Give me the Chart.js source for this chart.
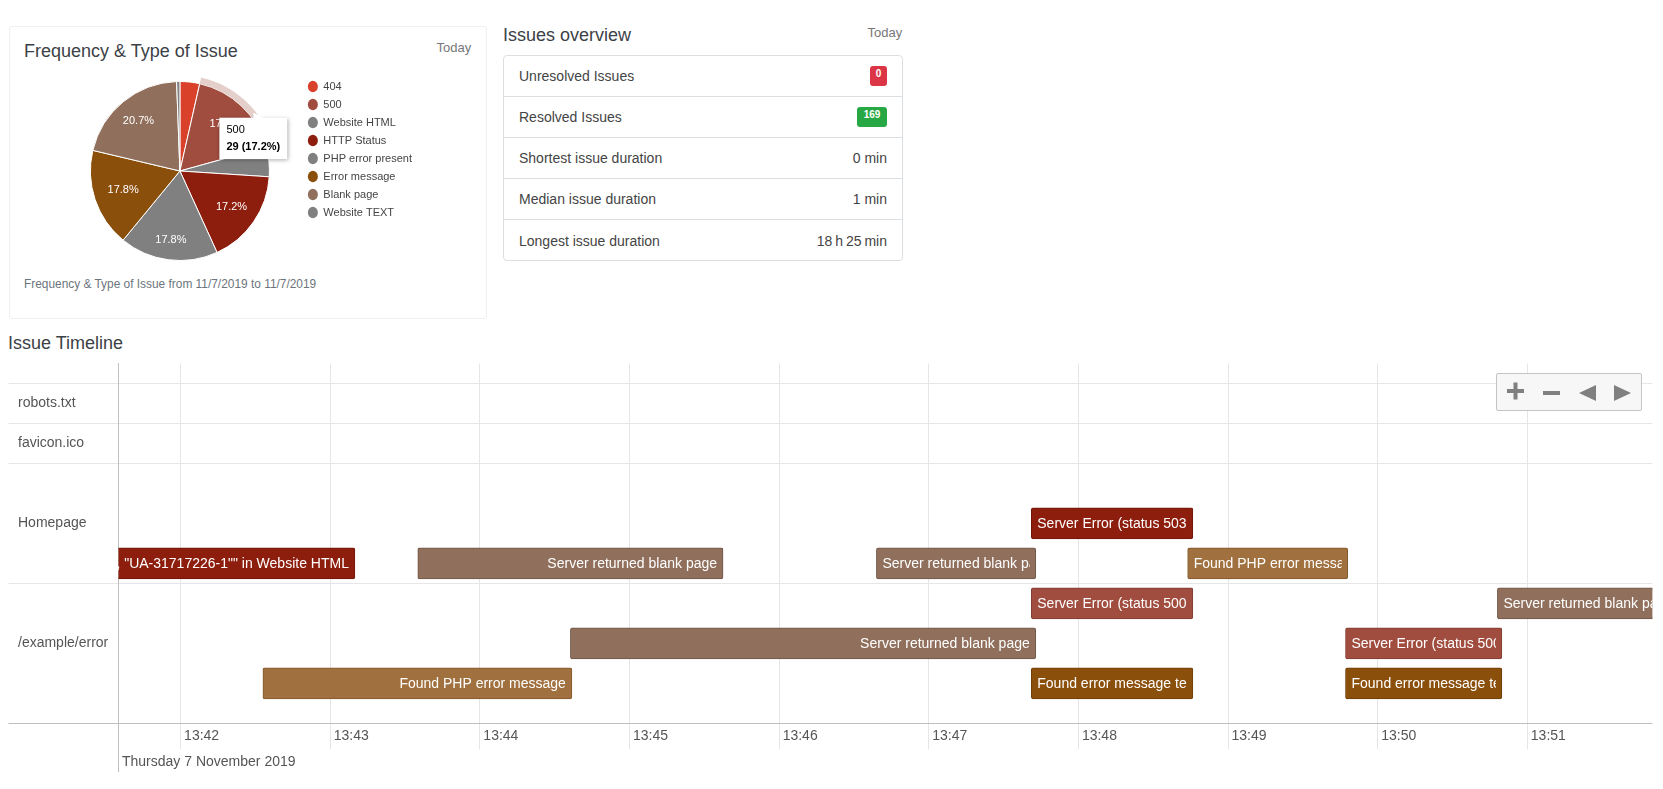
<!DOCTYPE html>
<html>
<head>
<meta charset="utf-8">
<title>Issues</title>
<script src="https://cdn.jsdelivr.net/npm/chart.js@4/dist/chart.umd.min.js"></script>
<style>
  body { margin: 0; background: #fff; font-family: "Liberation Sans", Arial, sans-serif; color: #343a40; overflow: hidden; }
  .abs { position: absolute; }
  .title { font-size: 18px; line-height: 22px; color: #3c4146; white-space: nowrap; }
  .today { font-size: 13px; line-height: 16px; color: #777; }
  .card { left: 8.5px; top: 26px; width: 478px; height: 293px; border: 1px solid #f0f0f0; border-radius: 3px; box-sizing: border-box; }
  .subtitle { left: 24px; top: 276.5px; font-size: 11.9px; line-height: 14px; color: #6c757d; white-space: nowrap; }
  .list { left: 503px; top: 55px; width: 400px; height: 206px; border: 1px solid #dcdfe2; border-radius: 4px; box-sizing: border-box; }
  .row { height: 41px; box-sizing: border-box; border-bottom: 1px solid #dcdfe2; padding: 0 15px; display: flex; justify-content: space-between; align-items: center; font-size: 14px; color: #444; }
  .row:last-child { border-bottom: 0; }
  .badge { color: #fff; font-size: 10px; font-weight: bold; line-height: 10px; height: 20px; padding: 3px 0 0; box-sizing: border-box; text-align: center; border-radius: 3px; }
  .red { background: #dc3545; width: 17px; }
  .green { background: #28a745; width: 30px; }
  #frequencyChart { left: 58.5px; top: 74px; }
  #timelineChart { left: 8px; top: 352px; }
  .axisExtra { left: 118px; top: 723px; width: 1px; height: 49px; background: #bfbfbf; }
  .dateLabel { left: 122px; top: 753px; font-size: 14px; line-height: 17px; color: #555; }
  .controls { left: 1496px; top: 373px; width: 146px; height: 38px; background: rgba(247,247,247,.95); border: 1px solid #c4c4c4; border-radius: 2px; box-sizing: border-box; }
</style>
</head>
<body>
<div class="abs card"></div>
<div class="abs title" style="left:24px;top:40px">Frequency &amp; Type of Issue</div>
<div class="abs today" style="left:436.5px;top:40px">Today</div>
<canvas class="abs" id="frequencyChart" width="363" height="194"></canvas>
<div class="abs subtitle">Frequency &amp; Type of Issue from 11/7/2019 to 11/7/2019</div>

<div class="abs title" style="left:503px;top:24px">Issues overview</div>
<div class="abs today" style="left:867.5px;top:25px">Today</div>
<div class="abs list">
  <div class="row"><span>Unresolved Issues</span><span class="badge red">0</span></div>
  <div class="row"><span>Resolved Issues</span><span class="badge green">169</span></div>
  <div class="row"><span>Shortest issue duration</span><span>0 min</span></div>
  <div class="row"><span>Median issue duration</span><span>1 min</span></div>
  <div class="row"><span>Longest issue duration</span><span style="word-spacing:-1px">18 h 25 min</span></div>
</div>

<div class="abs title" style="left:8px;top:332px">Issue Timeline</div>
<canvas class="abs" id="timelineChart" width="1645" height="406"></canvas>
<div class="abs axisExtra"></div>
<div class="abs dateLabel">Thursday 7 November 2019</div>
<div class="abs controls">
  <svg width="144" height="36" viewBox="0 0 144 36">
    <path fill="#808080" d="M10 10h6.5V3.5h4V10H27v4h-6.5v6.5h-4V14H10z" transform="translate(0,5)"/>
    <path fill="#808080" d="M46 17h17v4H46z"/>
    <path fill="#808080" d="M82 19l17-8v16z"/>
    <path fill="#808080" d="M134 19l-17-8v16z"/>
  </svg>
</div>

<script>
// Pie
const issueTypes = ['404', '500', 'Website HTML', 'HTTP Status', 'PHP error present', 'Error message', 'Blank page', 'Website TEXT'];
const issueCounts = [6, 29, 9, 29, 30, 30, 35, 1];
const sliceColors = ['#d9412a', '#a04d3f', '#808080', '#8d1e0d', '#808080', '#8b4f0c', '#90705d', '#808080'];
const haloColors = ['transparent', '#e4cfca', 'transparent', 'transparent', 'transparent', 'transparent', 'transparent', 'transparent'];
const activeSlice = 1;

// Timeline
const rowNames = ['robots.txt', 'favicon.ico', 'Homepage', '/example/error'];
const rowCenters = [1, 2, 4, 7];
const rowEdges = [0.5, 1.5, 2.5, 5.5, 9];
const tickMinutes = [42, 43, 44, 45, 46, 47, 48, 49, 50, 51];
const tickLabels = ['13:42', '13:43', '13:44', '13:45', '13:46', '13:47', '13:48', '13:49', '13:50', '13:51'];
const barLanes = [5, 5, 5, 4, 5, 6, 6, 7, 7, 8, 8, 8];
const barStarts = [41.0, 43.585, 46.65, 47.685, 48.73, 47.685, 50.80, 44.605, 49.785, 42.55, 47.685, 49.785];
const barEnds = [43.165, 45.625, 47.715, 48.765, 49.80, 48.765, 52.30, 47.715, 50.83, 44.615, 48.765, 50.83];
const barTypes = ['http', 'blank', 'blank', 'http', 'php', 's500', 'blank', 'blank', 's500', 'php', 'error', 'error'];
const barTexts = [
  ', "UA-31717226-1"" in Website HTML', 'Server returned blank page', 'Server returned blank page',
  'Server Error (status 503)', 'Found PHP error message', 'Server Error (status 500)',
  'Server returned blank page', 'Server returned blank page', 'Server Error (status 500)',
  'Found PHP error message', 'Found error message text', 'Found error message text'
];
const barAlign = ['right', 'right', 'left', 'left', 'left', 'left', 'left', 'right', 'left', 'right', 'left', 'left'];
const typeFill = { http: '#8d1e0d', blank: '#90705d', php: '#a0703e', s500: '#a04d3f', error: '#8b4f0c' };
const typeBorder = { http: '#6f1709', blank: '#6f5646', php: '#80592f', s500: '#803d32', error: '#6e3e09' };

const FONT = '"Liberation Sans", Arial, sans-serif';
const total = issueCounts.reduce((a, b) => a + b, 0);
const percent = i => (issueCounts[i] / total * 100).toFixed(1) + '%';

Chart.Tooltip.positioners.pinned = () => ({ x: 194.3, y: 43.7, xAlign: 'center', yAlign: 'top' });

// how far out each percentage sits, by slice
const labelReach = { 1: 0.73, 3: 0.70, 4: 0.78, 5: 0.67, 6: 0.73 };

const sliceLabels = {
  id: 'sliceLabels',
  afterDatasetsDraw(chart) {
    const { ctx } = chart;
    ctx.save();
    ctx.font = '11px ' + FONT;
    ctx.fillStyle = '#fff';
    ctx.textAlign = 'center';
    ctx.textBaseline = 'middle';
    chart.getDatasetMeta(1).data.forEach((arc, i) => {
      if (issueCounts[i] / total < 0.1) return;
      const mid = (arc.startAngle + arc.endAngle) / 2;
      const r = arc.outerRadius * labelReach[i];
      ctx.fillText(percent(i), arc.x + Math.cos(mid) * r, arc.y + Math.sin(mid) * r);
    });
    ctx.restore();
  }
};

const tooltipBox = {
  id: 'tooltipBox',
  beforeTooltipDraw(chart, args) {
    const { ctx } = chart;
    const t = args.tooltip;
    ctx.save();
    ctx.shadowColor = 'rgba(0,0,0,.35)';
    ctx.shadowBlur = 4;
    ctx.shadowOffsetX = 1;
    ctx.shadowOffsetY = 1;
    ctx.fillStyle = '#fff';
    ctx.fillRect(t.x, t.y, t.width, t.height);
    ctx.shadowColor = 'transparent';
    ctx.beginPath();
    ctx.moveTo(t.x + 34, t.y + 1);
    ctx.lineTo(t.x + 34, t.y - 5);
    ctx.lineTo(t.x + 46, t.y + 1);
    ctx.fill();
    ctx.restore();
  }
};

const frequencyChart = new Chart(document.getElementById('frequencyChart'), {
  type: 'doughnut',
  data: {
    labels: issueTypes,
    datasets: [
      { data: issueCounts, backgroundColor: haloColors, hoverBackgroundColor: haloColors, borderWidth: 0, hoverBorderWidth: 0, weight: 6.5 },
      { data: issueCounts, backgroundColor: sliceColors, hoverBackgroundColor: sliceColors, borderColor: '#fff', hoverBorderColor: '#fff', borderWidth: 1, hoverBorderWidth: 1, weight: 89.5 }
    ]
  },
  options: {
    responsive: false,
    animation: false,
    events: [],
    cutout: 0,
    radius: 96,
    hoverOffset: 0,
    plugins: {
      legend: {
        position: 'right',
        align: 'start',
        labels: {
          usePointStyle: true,
          pointStyleWidth: 10,
          boxHeight: 8,
          padding: 7,
          color: '#444',
          font: { size: 11, family: FONT },
          generateLabels: () => issueTypes.map((text, i) => ({
            text, fillStyle: sliceColors[i], strokeStyle: sliceColors[i], lineWidth: 0,
            pointStyle: 'circle', fontColor: '#444', hidden: false, index: i
          }))
        }
      },
      tooltip: {
        enabled: true,
        position: 'pinned',
        backgroundColor: 'transparent',
        titleColor: '#000',
        bodyColor: '#000',
        titleFont: { size: 11, weight: 'normal', family: FONT },
        bodyFont: { size: 11, weight: 'bold', family: FONT },
        titleMarginBottom: 3,
        padding: { x: 7, y: 6 },
        caretSize: 0,
        caretPadding: 0,
        cornerRadius: 0,
        displayColors: false,
        callbacks: {
          title: items => issueTypes[items[0].dataIndex],
          label: item => issueCounts[item.dataIndex] + ' (' + percent(item.dataIndex) + ')'
        }
      }
    }
  },
  plugins: [sliceLabels, tooltipBox]
});
frequencyChart.tooltip.setActiveElements([{ datasetIndex: 1, index: activeSlice }], { x: 0, y: 0 });
frequencyChart.update();

const barCaptions = {
  id: 'barCaptions',
  afterDatasetsDraw(chart) {
    const { ctx, chartArea } = chart;
    chart.getDatasetMeta(0).data.forEach((bar, i) => {
      const left = Math.max(bar.base, chartArea.left - 6) + 6;
      const right = Math.min(bar.x, chartArea.right + 6) - 6;
      ctx.save();
      ctx.beginPath();
      ctx.rect(left - (i === 0 ? 6 : 0), bar.y - 15, right - left + (i === 0 ? 6 : 0), 30);
      ctx.clip();
      ctx.font = '14px ' + FONT;
      ctx.fillStyle = '#fff';
      ctx.textBaseline = 'middle';
      ctx.textAlign = barAlign[i];
      ctx.fillText(barTexts[i], barAlign[i] === 'right' ? right : left, bar.y + 1);
      ctx.restore();
    });
  }
};

const timelineChart = new Chart(document.getElementById('timelineChart'), {
  type: 'bar',
  data: {
    datasets: [{
      data: barLanes.map((y, i) => ({ x: [barStarts[i], barEnds[i]], y })),
      backgroundColor: barTypes.map(t => typeFill[t]),
      borderColor: barTypes.map(t => typeBorder[t]),
      borderWidth: 1,
      borderSkipped: false,
      borderRadius: 2,
      barThickness: 31
    }]
  },
  options: {
    indexAxis: 'y',
    responsive: false,
    animation: false,
    events: [],
    layout: { padding: { left: 10, top: 9, right: 0.6, bottom: 0 } },
    plugins: { legend: { display: false }, tooltip: { enabled: false } },
    scales: {
      x: {
        type: 'linear',
        position: 'bottom',
        min: 41.585,
        max: 51.836,
        afterBuildTicks: axis => { axis.ticks = tickMinutes.map(value => ({ value })); },
        afterFit: axis => { axis.height = 34.7; },
        grid: { color: '#e6e6e6', tickLength: 26 },
        border: { display: false },
        ticks: {
          autoSkip: false,
          maxRotation: 0,
          align: 'start',
          labelOffset: 3.5,
          padding: -22,
          color: '#555',
          font: { size: 14, family: FONT },
          callback: value => tickLabels[tickMinutes.indexOf(value)]
        }
      },
      y: {
        type: 'linear',
        position: 'left',
        reverse: true,
        offset: false,
        min: 0,
        max: 9,
        afterBuildTicks: axis => {
          axis.ticks = rowEdges.concat(rowCenters).sort((a, b) => a - b).map(value => ({ value }));
        },
        afterFit: axis => { axis.width = 100.5; },
        grid: {
          offset: false,
          tickLength: 110,
          color: ctx => {
            const v = ctx.tick ? ctx.tick.value : 0;
            if (v === 9) return '#bfbfbf';
            return rowEdges.includes(v) ? '#e6e6e6' : 'transparent';
          }
        },
        border: { display: true, color: '#bfbfbf' },
        ticks: {
          autoSkip: false,
          crossAlign: 'far',
          color: '#555',
          font: { size: 14, family: FONT },
          callback: value => {
            const i = rowCenters.indexOf(value);
            return i >= 0 ? rowNames[i] : '';
          }
        }
      }
    }
  },
  plugins: [barCaptions]
});
</script>
</body>
</html>
